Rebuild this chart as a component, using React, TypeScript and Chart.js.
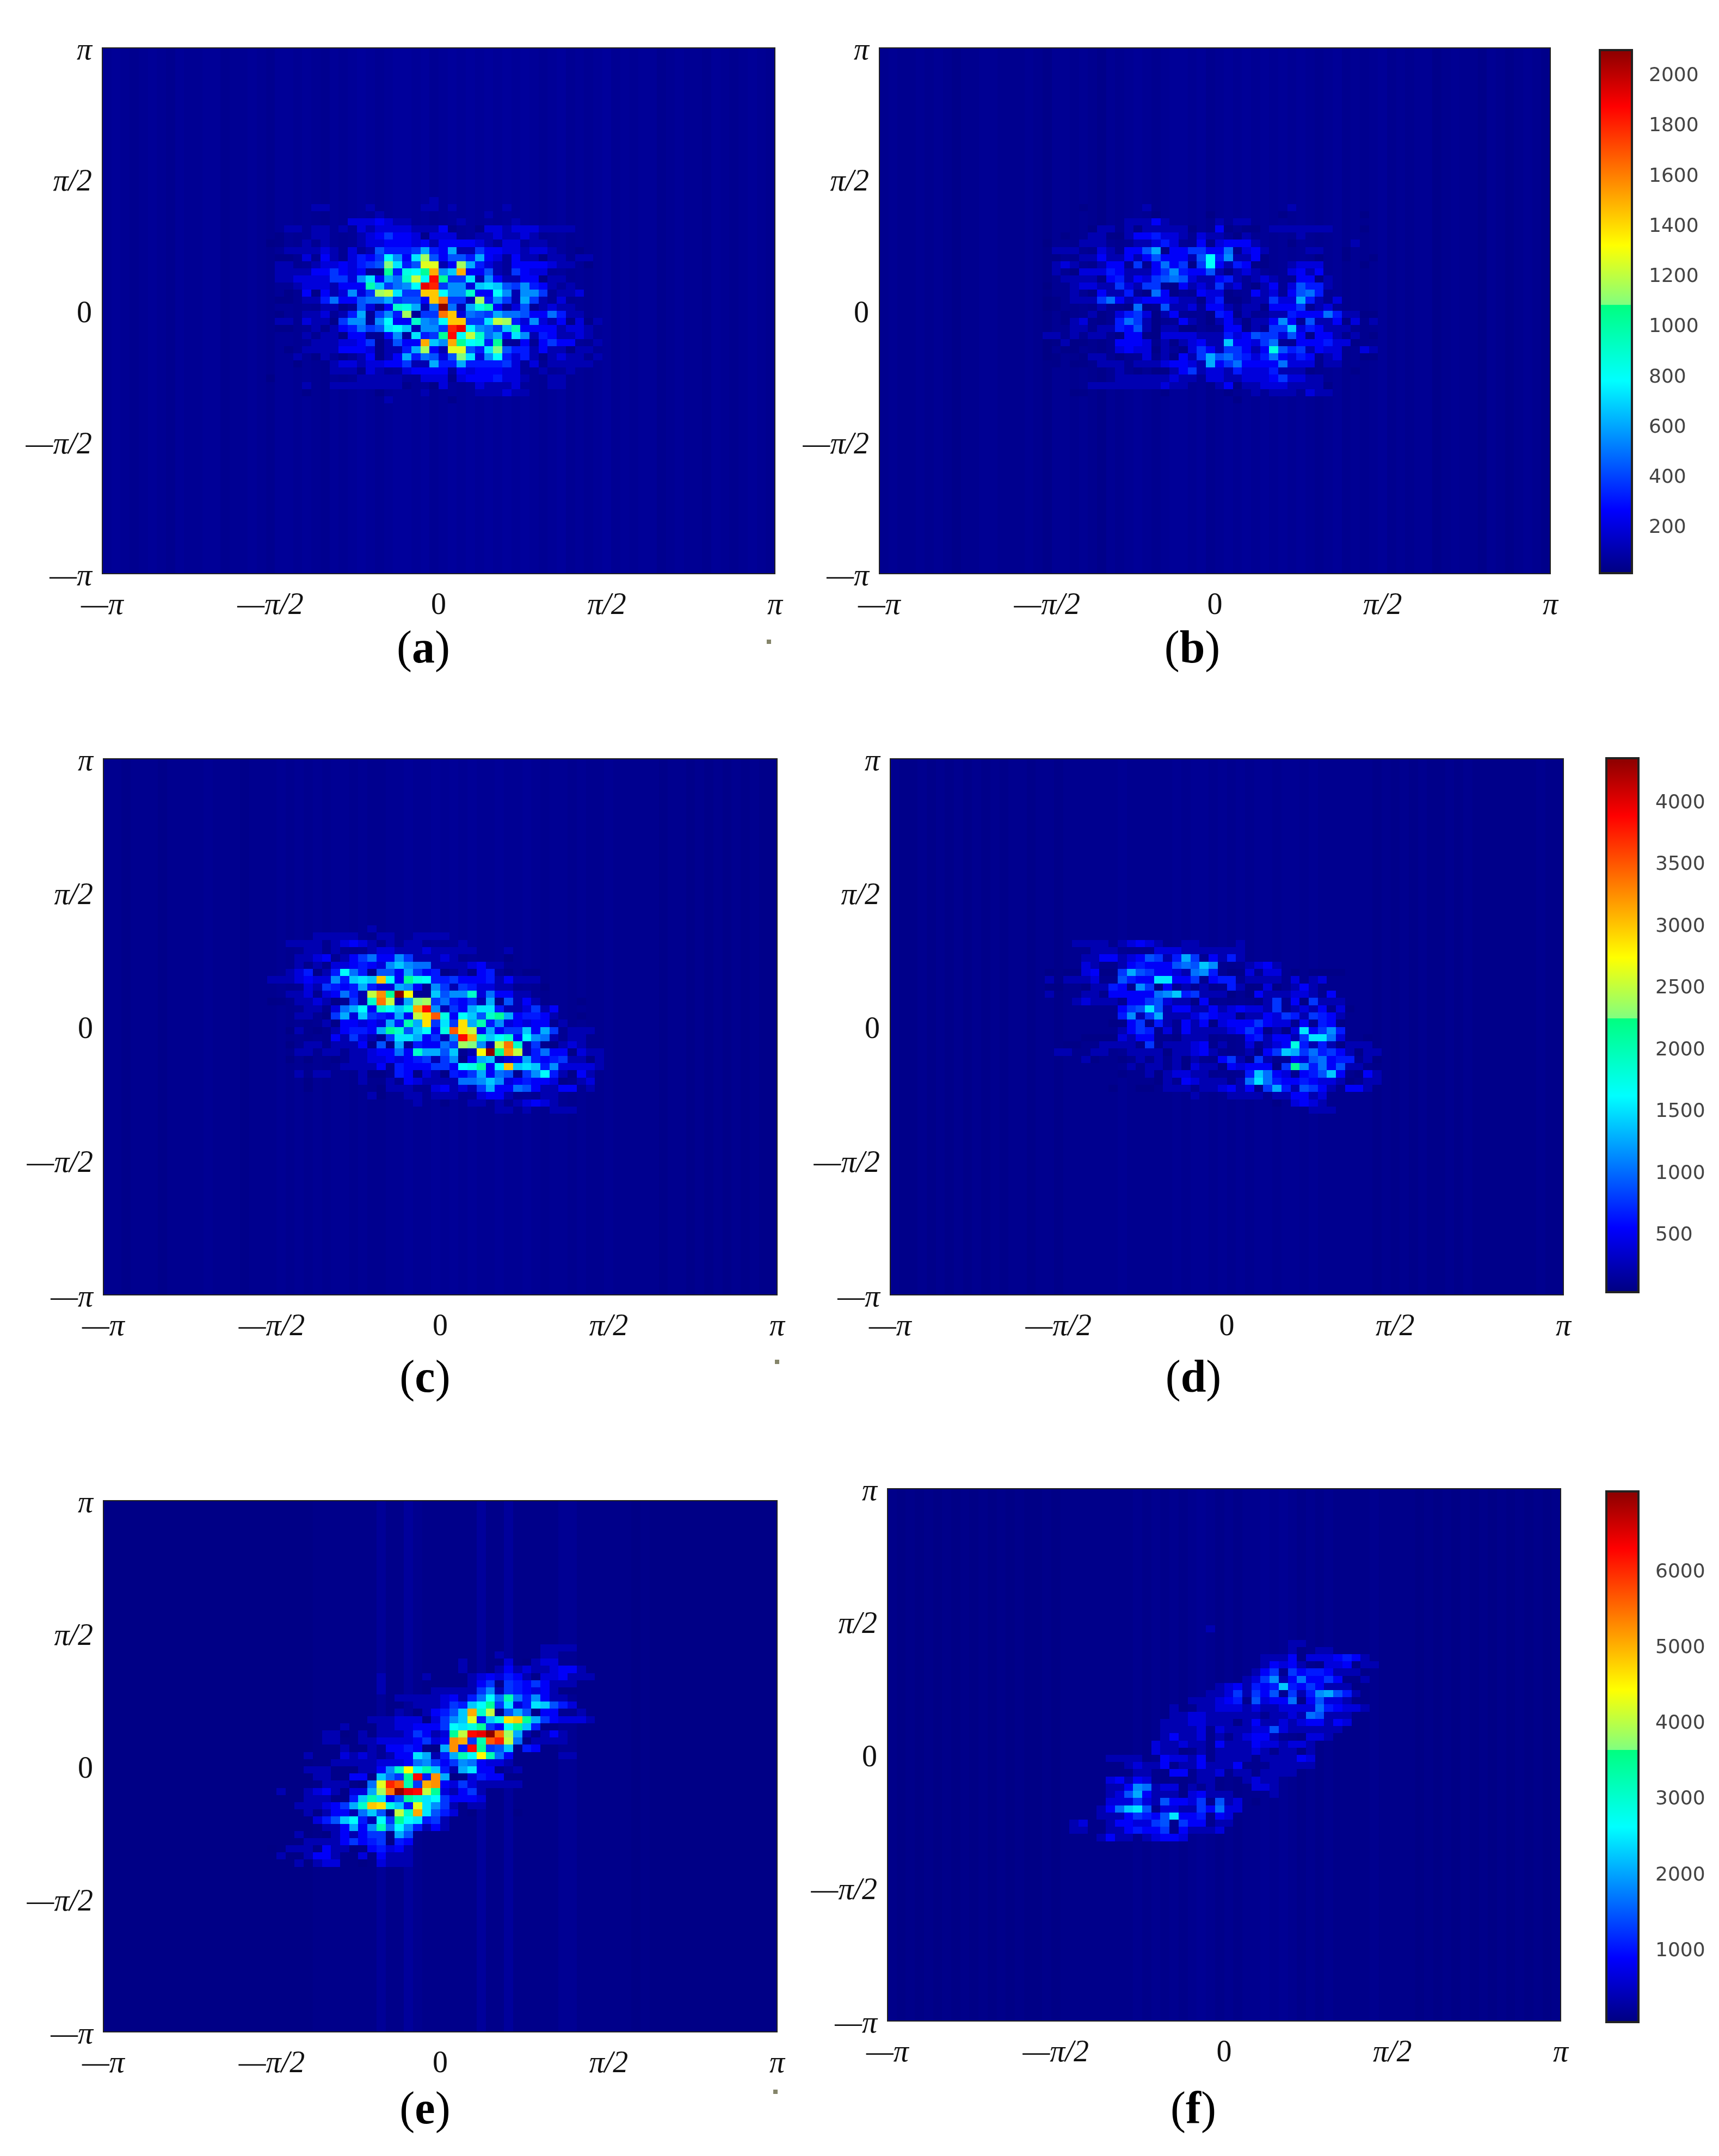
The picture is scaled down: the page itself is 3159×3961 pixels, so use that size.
import React, { useEffect, useRef } from "react";
import { Chart, registerables } from "chart.js";

Chart.register(...registerables);

const GRID = 74;
const PI = Math.PI;
const tickValues = [-PI, -PI / 2, 0, PI / 2, PI];
const tickLabels = ["—π", "—π/2", "0", "π/2", "π"];

// colour levels: 0-9a-z runs along the colour bar, "." and "1" sit on the column floor
const rowsA = [
  "1111111111 1111111121 1111111111 1111111",
  "1111122111 1211111221 2111112111 1111111",
  "1111111111 1121111111 1111211111 1111111",
  "1111111113 3343221111 1211111211 1111111",
  "1122122121 3233332224 0110332333 2222111",
  "1011122111 2346443033 3112232232 1111111",
  "0011212111 2334443424 4443213312 2111111",
  "1122223213 1275556a54 a226443323 3211011",
  "1001314213 546d94cj74 775a431422 0221221",
  "1221123343 567ic57ll2 4ja5321444 4322101",
  "1222244643 411h5edhp9 bp44721643 3111111",
  "1223333663 9c4a8fkdvh 66c2942244 0221111",
  "1112333244 4gb689dwu6 993bcb7695 4212111",
  "1101404239 36jkc66ood 99f44d9299 6122311",
  "1001225844 788a6774or 662j5962a6 2131111",
  "1111112201 7314fea28z 82aeg41371 2322111",
  "1011223125 a1695j166r o3876a8874 4852211",
  "1221322069 919d44f98d oo66ckj539 3240302",
  "1001121245 867cdb2996 uwd986bg44 4423321",
  "1111212204 411491c56h vdkf8a4c92 5422321",
  "1111122233 4602744pb9 phde5h1141 4644112",
  "1101222244 430225aj42 ll75ci7552 4220221",
  "1112102101 24024a5873 7ic39d5352 0232212",
  "1110111233 23344622a5 5a55556313 1222221",
  "1111111222 0321134444 1434443311 2112111",
  "0111111111 2222211333 0344453321 1221111",
  "1111211222 2222201103 1113222311 1221111",
  "1111011111 1101111211 1112223221 1111111",
  "1111111111 1112111111 0111111111 1111111",
];

const rowsB = [
  "1111111111 1111111111 1111111111 1111111",
  "1111011111 1211111111 1111111211 1111111",
  "1111111111 1101111101 1111110111 1111101",
  "1111111112 2242111112 1221111111 1111111",
  "1111102212 0222220114 0100122222 2211101",
  "1101122002 4453321322 1021111121 1111111",
  "0111222111 2235311413 4442111011 1111211",
  "1222113214 47a0446644 8134211112 2110111",
  "1011224224 24744427d5 9224011111 0110110",
  "1232112441 61484606d4 2540011233 3111101",
  "1210333542 2246954472 0232111342 4111111",
  "1122221452 4367873224 5212321144 0211111",
  "0112332263 2661042326 2310241375 5211111",
  "1112104225 1084011433 0114231478 5111111",
  "0012226842 3444322035 00122633a5 2131111",
  "0011112110 8017223144 2122044461 2311111",
  "1101121135 6302411105 4021122544 4852200",
  "1102311158 6201142102 4202249417 2240312",
  "1112212254 7202200111 4402166b35 4222111",
  "2212122104 4003333222 5347663740 4421210",
  "0020011144 4312023422 b443681144 4533011",
  "0100111134 3302103642 66424e7562 4331132",
  "0011022101 13120426a7 8653584354 1231100",
  "1010012221 22234432a4 6844448333 1221111",
  "1111111121 0100246233 2533352220 1111011",
  "1111111122 2222322133 2233346332 2111111",
  "1111122222 2223221112 4022333222 2011111",
  "1110011111 1110111111 0112122213 2211111",
  "1111111111 1111111111 1011111111 1111111",
];

const rowsC = [
  "1111111111 1211111111 1111111111 1111111",
  "1111122222 1122112222 1111111111 1111111",
  "1122221234 3212122111 1211111111 1111111",
  "1111221211 1233222322 2221112111 1111111",
  "1112234124 6844962223 2111110111 1111111",
  "1112121334 5439b98822 2234221111 1111111",
  "11235025d8 51774a6450 1204510100 1111111",
  "222343395b cbod4hed55 6444524222 1111111",
  "1111326545 a533a94196 2653322111 0111111",
  "1122313485 2kqhzm11b7 99f3844221 1111111",
  "0012232016 2frk2aij68 5462a07242 1111011",
  "111122138a d4fdbepv92 64acc52236 2411111",
  "11122106a3 b654a4knse 4db7fha455 4211011",
  "1111112044 343a5gan6c 6nag593434 4121111",
  "1102101245 54ahf7bd4e snk4a466b4 a612221",
  "1111111426 3216cca462 9vpfbdf4d9 8212211",
  "1101221222 4170a15448 6ji92krf26 1023211",
  "1112212212 234484faa7 b12mzhqk25 8440322",
  "1101011012 2334345626 904ab234a5 4562202",
  "1111111122 2241544466 4deh4dobcb 5933332",
  "1112122111 2001540320 546a487169 d520421",
  "1111011111 2112143222 2889b93454 4301231",
  "1111011111 1102221134 2326a44874 2244121",
  "1111111111 1201122122 2113442111 2211111",
  "1111111111 1111112110 1122121234 3211111",
  "1111111111 1111111111 1111122121 1222111",
];

const rowsD = [
  "1111111111 1111111111 1111111111 1111111",
  "1111111111 1111111111 1111111111 1111111",
  "1112222123 4321122111 1211111111 1111111",
  "1111122211 1133322222 2211111111 1111111",
  "1111224423 47625a6142 5211111111 1111111",
  "1111321124 5444787b91 1123421111 1111111",
  "010034006a 7644328951 0031331010 0001111",
  "2122231175 44cc446145 5122221312 3111111",
  "0011022541 9604121211 5200301242 1111111",
  "2111221444 4489b56222 0104222332 1411111",
  "1112322214 4673220411 1110261406 2221111",
  "1111111146 7c72442242 3433261232 4130111",
  "1111111159 26a2223543 3022436526 5421111",
  "1111111004 6152142403 4446433141 5401111",
  "1111111124 6513142222 34640203c4 6951111",
  "1111000032 4411022211 114524426c c831101",
  "1100112222 1612223412 1131234e52 5202221",
  "1221122112 2220223421 112046ba68 5642022",
  "1111201101 2121202114 6206211437 8455120",
  "1111111112 1221203220 4344406h95 8472211",
  "1111111101 1202332211 115b843145 7b41042",
  "1111111111 1102143222 128c854454 3320122",
  "1111111011 0012221223 42406a5276 4214421",
  "1111111111 1111112111 2222122442 3111111",
  "1111111111 1111111111 1111101343 2111111",
  "1111111111 1111111111 1111111112 2211111",
];

const rowsE = [
  "1111111111 1111111111 1111111111 2222111",
  "1111111111 1111111111 1111121111 2211111",
  "1111111111 1111111111 1211113102 3311111",
  "1111111111 1111111111 1211124232 2344211",
  "1111111111 1121111211 1123435421 3342221",
  "1111111111 1121111111 1124616546 4222111",
  "1111111111 1121111122 2226926543 4200111",
  "1111111111 1111222223 4258d8g859 4221111",
  "1111111111 1111112223 65bdh6c35c b753111",
  "1111111111 1111210245 7bpfk17a71 4411211",
  "1111111111 1222333136 9bl5benoha 6433321",
  "1111111121 1122334446 dceh64dhb5 1111111",
  "1111112201 2122236423 hkvwzrja21 2421111",
  "1111112211 2233334634 qp6gsuk812 2221111",
  "1111111121 121445410a q5vh67b154 1111111",
  "1111211132 321244ca25 agdmg84111 1122111",
  "1111111222 2233348964 6984332111 1111111",
  "1111222111 2249fmdgb5 2ac4411211 1111111",
  "1111122114 41b86hv5qa 0135440111 1111111",
  "1111112221 08lusg6pq4 3632222211 1111111",
  "1211234213 3ajrzwvkh3 2462111111 1111111",
  "1111222115 bgc47hfcd6 4443111111 1111111",
  "111222346a foneb5lc96 2122111111 1111111",
  "1111212442 8b71kfpc75 3101111011 1111111",
  "11111357bd 52d6hdc562 1111111111 1111111",
  "111111224a 49g8d95242 1111111111 1111111",
  "1112110242 4661a71111 1111111111 1111111",
  "1111222246 4560541111 1111111111 1111111",
  "0122214220 1453421111 1111111111 1111111",
  "1211244211 3142221111 1111111111 1111111",
  "1112123311 0132221111 1111111111 1111111",
  "1111111111 1111111111 1111111111 1111111",
];

const rowsF = [
  ".......... .......... .......... .......",
  ".......... .......... .......... .......",
  ".......... .......... .......... .......",
  ".......... ........2. .......... .......",
  ".......... .......... .......... .......",
  ".......... .......... .......22. .......",
  ".......... .......... ......1211 221....",
  ".......... .......... ....222413 3345421",
  ".......... .......... ...1243421 1334122",
  ".......... .......... ..12461645 5422211",
  ".......... .......... 1123692484 4641121",
  ".......... .........2 342545b546 4222011",
  ".......... .......122 3626471625 9a75211",
  ".......... .....12223 4517344814 7332111",
  ".......... ....211223 3323223333 8543321",
  ".......... ....223322 2222122328 7222111",
  ".......... ...2223322 2124223234 4243111",
  ".......... ...2222313 2223373222 2221111",
  ".......... ...2422312 1234421113 3211111",
  ".......... ..32232214 2224332332 1111111",
  ".......... ..32211212 2223212212 1111111",
  ".......222 2114332412 2221222243 1111111",
  "......1112 3224122422 2411122222 1111111",
  "......1111 2211441223 1221222211 1111111",
  ".......342 4311111221 1123221111 1111111",
  "......1224 9823312121 1113321111 1111111",
  "....111237 a422213422 2111121111 1111111",
  "......1333 6327443617 2310111111 1111111",
  "......248b c713322648 3311111111 1111111",
  "......2224 6547c44514 3111111111 1111111",
  "..12311244 3367164412 2111111111 1111111",
  "..12211224 5446142223 1111111111 1111111",
  "..11112422 1234431111 1111111111 1111111",
];

// faint vertical striping of each panel, one digit per column
const floorA = "4543454354 4553445435 5454354565 4566564565 6565656545 6454564545 5345443543 4543";
const floorB = "3433434323 3443334324 4343243454 3455453454 5454545434 5343453434 4234332432 3432";
const floorC = "3323332333 3433323334 3434344343 3445445454 5445445434 4343343333 3233232323 2322";
const floorD = "3223232323 2323323323 3333343333 3434434343 4434434333 3332323232 2323222222 2322";
const floorE = "1111111111 1111111111 1112222222 5226322222 2622622222 4422222212 1111111111 1111";
const floorF = "2121212121 2121211212 2222222323 2323432323 3434323232 2223222212 1212121212 1212";

// value range of each colour bar and its ticks
const maxTop = 2080;
const maxMiddle = 4316;
const maxBottom = 6985;
const ticksTop = [200, 400, 600, 800, 1000, 1200, 1400, 1600, 1800, 2000];
const ticksMiddle = [500, 1000, 1500, 2000, 2500, 3000, 3500, 4000];
const ticksBottom = [1000, 2000, 3000, 4000, 5000, 6000];

const captions = ["a", "b", "c", "d", "e", "f"];

const panelBoxes = [
  { rows: rowsA, floor: floorA, max: maxTop, left: 188, top: 88, w: 1236, h: 966, colOff: 18, rowOff: 21, cx: 778, cy: 1188 },
  { rows: rowsB, floor: floorB, max: maxTop, left: 1616, top: 88, w: 1233, h: 966, colOff: 18, rowOff: 21, cx: 2191, cy: 1188 },
  { rows: rowsC, floor: floorC, max: maxMiddle, left: 190, top: 1394, w: 1238, h: 985, colOff: 18, rowOff: 23, cx: 781, cy: 2528 },
  { rows: rowsD, floor: floorD, max: maxMiddle, left: 1636, top: 1394, w: 1237, h: 985, colOff: 17, rowOff: 23, cx: 2193, cy: 2528 },
  { rows: rowsE, floor: floorE, max: maxBottom, left: 190, top: 2757, w: 1238, h: 976, colOff: 18, rowOff: 20, cx: 781, cy: 3872 },
  { rows: rowsF, floor: floorF, max: maxBottom, left: 1631, top: 2735, w: 1237, h: 978, colOff: 17, rowOff: 16, cx: 2193, cy: 3872 },
];

const barBoxes = [
  { max: maxTop, ticks: ticksTop, left: 2941, top: 93, w: 57, h: 959 },
  { max: maxMiddle, ticks: ticksMiddle, left: 2953, top: 1394, w: 57, h: 979 },
  { max: maxBottom, ticks: ticksBottom, left: 2953, top: 2741, w: 57, h: 973 },
];

// stray specks under the left column of the figure
const specks = [
  { left: 1409, top: 1175 },
  { left: 1424, top: 2498 },
  { left: 1421, top: 3839 },
];

// the figure's jet map, with its step at the green
const jetStops: [number, number[]][] = [
  [0, [0, 0, 130]],
  [0.12, [0, 0, 255]],
  [0.3675, [0, 255, 255]],
  [0.5125, [0, 255, 128]],
  [0.5126, [128, 255, 128]],
  [0.627, [255, 255, 0]],
  [0.893, [255, 0, 0]],
  [1, [140, 0, 0]],
];

function jetColor(f: number) {
  const t = Math.min(1, Math.max(0, f));
  for (let i = 1; i < jetStops.length; i++) {
    const [t1, c1] = jetStops[i];
    if (t <= t1) {
      const [t0, c0] = jetStops[i - 1];
      const k = (t - t0) / (t1 - t0);
      return `rgb(${c0.map((c, j) => Math.round(c + (c1[j] - c) * k)).join(",")})`;
    }
  }
  return "rgb(140,0,0)";
}

function buildCells(box: (typeof panelBoxes)[number]) {
  const floor = box.floor.replace(/ /g, "");
  const step = (2 * PI) / GRID;
  const cells: { x: number; y: number; v: number }[] = [];
  for (let r = 0; r < GRID; r++) {
    const row = (box.rows[r - box.rowOff] || "").replace(/ /g, "");
    for (let c = 0; c < GRID; c++) {
      const code = row[c - box.colOff];
      const low = Number(floor[c] || 3) * 0.004;
      let f = low;
      if (code === "0") f = low * 0.4;
      else if (code === "2") f = 0.045; // the faintest rim cells
      else if (code && code !== "." && code !== "1") f = parseInt(code, 36) / 35;
      cells.push({ x: -PI + (c + 0.5) * step, y: PI - (r + 0.5) * step, v: f * box.max });
    }
  }
  return cells;
}

const heatmapPlugin = (max: number) => ({
  id: "heatmap",
  beforeDatasetsDraw(chart: any) {
    const { ctx, scales, chartArea: a } = chart;
    const half = PI / GRID;
    ctx.save();
    for (const p of chart.data.datasets[0].data) {
      const x0 = Math.round(scales.x.getPixelForValue(p.x - half));
      const x1 = Math.round(scales.x.getPixelForValue(p.x + half));
      const y0 = Math.round(scales.y.getPixelForValue(p.y + half));
      const y1 = Math.round(scales.y.getPixelForValue(p.y - half));
      ctx.fillStyle = jetColor(p.v / max);
      ctx.fillRect(x0, y0, x1 - x0, y1 - y0);
    }
    ctx.strokeStyle = "#222";
    ctx.lineWidth = 2;
    ctx.strokeRect(a.left, a.top, a.right - a.left, a.bottom - a.top);
    ctx.restore();
  },
});

const barPlugin = {
  id: "colorBar",
  beforeDatasetsDraw(chart: any) {
    const { ctx, chartArea: a } = chart;
    const grad = ctx.createLinearGradient(0, a.bottom, 0, a.top);
    jetStops.forEach(([t, c]) => grad.addColorStop(t, `rgb(${c.join(",")})`));
    ctx.save();
    ctx.fillStyle = grad;
    ctx.fillRect(a.left, a.top, a.right - a.left, a.bottom - a.top);
    ctx.strokeStyle = "#222";
    ctx.lineWidth = 4;
    ctx.strokeRect(a.left - 1, a.top - 1, a.right - a.left + 2, a.bottom - a.top + 2);
    ctx.restore();
  },
};

// scales would otherwise add room for their end labels and move the plot area
const noScalePadding = (scale: any) => {
  scale.paddingTop = 0;
  scale.paddingBottom = 0;
  scale.paddingLeft = 0;
  scale.paddingRight = 0;
};

const PAD_LEFT = 170;
const PAD_TOP = 40;
const PAD_RIGHT = 50;
const PAD_BOTTOM = 100;

function Panel({ box }: { box: (typeof panelBoxes)[number] }) {
  const ref = useRef<HTMLCanvasElement | null>(null);

  useEffect(() => {
    if (!ref.current) return;
    const tickFont = (c: any) => ({
      family: "'Liberation Serif', serif",
      size: 56,
      style: c.tick && Math.abs(c.tick.value) > 1e-6 ? "italic" : "normal",
    });
    const axisBase = {
      type: "linear" as const,
      min: -PI,
      max: PI,
      z: 1,
      grid: { display: false, drawTicks: false },
      border: { display: false },
      afterBuildTicks: (scale: any) => {
        scale.ticks = tickValues.map((value) => ({ value }));
      },
    };
    const labelFor = (value: any) => tickLabels[tickValues.findIndex((t) => Math.abs(t - value) < 1e-6)];
    const chart = new Chart(ref.current, {
      type: "scatter",
      data: { datasets: [{ data: buildCells(box), pointRadius: 0 }] },
      options: {
        animation: false,
        responsive: false,
        devicePixelRatio: 1,
        layout: { padding: { top: PAD_TOP, right: PAD_RIGHT } },
        plugins: { legend: { display: false }, tooltip: { enabled: false } },
        scales: {
          x: {
            ...axisBase,
            afterFit: (scale: any) => {
              noScalePadding(scale);
              scale.height = PAD_BOTTOM;
            },
            ticks: { font: tickFont, color: "#111", padding: 26, maxRotation: 0, autoSkip: false, callback: labelFor },
          },
          y: {
            ...axisBase,
            afterFit: (scale: any) => {
              noScalePadding(scale);
              scale.width = PAD_LEFT;
            },
            ticks: { font: tickFont, color: "#111", padding: 19, labelOffset: 6, autoSkip: false, callback: labelFor },
          },
        },
      },
      plugins: [heatmapPlugin(box.max)],
    } as any);
    return () => chart.destroy();
  }, [box]);

  return (
    <canvas
      ref={ref}
      width={box.w + PAD_LEFT + PAD_RIGHT}
      height={box.h + PAD_TOP + PAD_BOTTOM}
      style={{ position: "absolute", left: box.left - PAD_LEFT, top: box.top - PAD_TOP }}
    />
  );
}

function ColorBar({ box }: { box: (typeof barBoxes)[number] }) {
  const ref = useRef<HTMLCanvasElement | null>(null);

  useEffect(() => {
    if (!ref.current) return;
    const chart = new Chart(ref.current, {
      type: "scatter",
      data: { datasets: [{ data: [], pointRadius: 0 }] },
      options: {
        animation: false,
        responsive: false,
        devicePixelRatio: 1,
        layout: { padding: { left: 12, top: 20, bottom: 20 } },
        plugins: { legend: { display: false }, tooltip: { enabled: false } },
        scales: {
          x: { display: false },
          y: {
            position: "right",
            min: 0,
            max: box.max,
            z: 1,
            afterBuildTicks: (scale: any) => {
              scale.ticks = box.ticks.map((value) => ({ value }));
            },
            afterFit: (scale: any) => {
              noScalePadding(scale);
              scale.width = 150;
            },
            grid: { drawOnChartArea: false, tickLength: -10, color: "#222", lineWidth: 2 },
            border: { display: false },
            ticks: {
              font: { family: "'DejaVu Sans', sans-serif", size: 36 },
              color: "#444",
              padding: 42,
              labelOffset: 10,
              autoSkip: false,
              callback: (value: any) => String(value),
            },
          },
        },
      },
      plugins: [barPlugin],
    } as any);
    return () => chart.destroy();
  }, [box]);

  return (
    <canvas
      ref={ref}
      width={12 + box.w + 150}
      height={box.h + 40}
      style={{ position: "absolute", left: box.left - 12, top: box.top - 20 }}
    />
  );
}

export default function App() {
  return (
    <div style={{ position: "absolute", left: 0, top: 0, width: 3159, height: 3961, background: "#fff", overflow: "hidden" }}>
      {panelBoxes.map((box, i) => (
        <React.Fragment key={captions[i]}>
          <Panel box={box} />
          <div
            style={{
              position: "absolute",
              left: box.cx,
              top: box.cy,
              transform: "translate(-50%, -50%)",
              font: "84px 'Liberation Serif', serif",
              color: "#000",
            }}
          >
            (<b>{captions[i]}</b>)
          </div>
        </React.Fragment>
      ))}
      {barBoxes.map((box) => (
        <ColorBar key={box.max} box={box} />
      ))}
      {specks.map((s) => (
        <div key={s.top} style={{ position: "absolute", left: s.left, top: s.top, width: 8, height: 8, background: "#85856a" }} />
      ))}
    </div>
  );
}
